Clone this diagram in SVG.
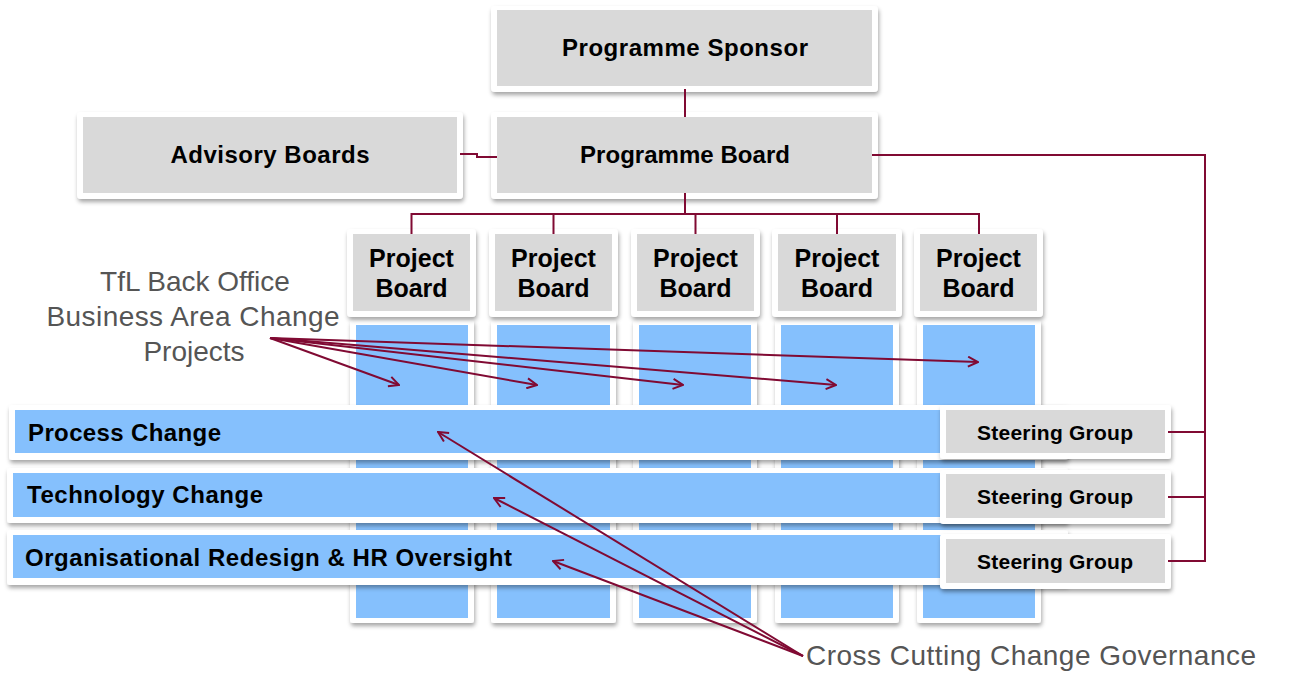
<svg xmlns="http://www.w3.org/2000/svg" width="1298" height="690" viewBox="0 0 1298 690">
<style>
.card{fill:#fff;filter:url(#sh)}
.gray{fill:#D9D9D9}
.blue{fill:#85C0FD}
.t{font-family:"Liberation Sans",Arial,sans-serif;font-weight:bold;fill:#000}
.lbl{font-family:"Liberation Sans",Arial,sans-serif;font-size:28px;fill:#555}
.c{fill:none;stroke:#800A33;stroke-width:2}
.a{fill:none;stroke:#800A33;stroke-width:2;marker-end:url(#ah)}
</style>
<defs>
<filter id="sh" x="-10%" y="-10%" width="120%" height="130%">
<feDropShadow dx="1" dy="3" stdDeviation="2" flood-color="#000" flood-opacity="0.35"/>
</filter>
<marker id="ah" viewBox="0 0 12 12" refX="11" refY="6" markerWidth="12" markerHeight="12" markerUnits="userSpaceOnUse" orient="auto">
<path d="M1,1 L11,6 L1,11" fill="none" stroke="#800A33" stroke-width="2"/>
</marker>
</defs>
<rect width="1298" height="690" fill="#fff"/>

<g id="columns">
<rect class="card" x="350" y="320" width="124" height="303" rx="3"/><rect class="blue" x="356" y="325" width="112" height="293"/>
<rect class="card" x="491" y="320" width="125" height="303" rx="3"/><rect class="blue" x="497" y="325" width="113" height="293"/>
<rect class="card" x="633" y="320" width="124" height="303" rx="3"/><rect class="blue" x="639" y="325" width="112" height="293"/>
<rect class="card" x="775" y="320" width="124" height="303" rx="3"/><rect class="blue" x="781" y="325" width="112" height="293"/>
<rect class="card" x="917" y="320" width="124" height="303" rx="3"/><rect class="blue" x="923" y="325" width="112" height="293"/>
</g>

<g id="sponsor">
<rect class="card" x="491" y="6" width="387" height="86" rx="4"/><rect class="gray" x="497" y="10" width="375" height="76"/>
<text class="t" x="685" y="56" font-size="24" text-anchor="middle" textLength="246">Programme Sponsor</text>
</g>
<g id="board">
<rect class="card" x="491" y="112" width="387" height="87" rx="4"/><rect class="gray" x="497" y="117" width="375" height="76"/>
<text class="t" x="685" y="163" font-size="24" text-anchor="middle" textLength="210">Programme Board</text>
</g>
<g id="advisory">
<rect class="card" x="77" y="112" width="386" height="87" rx="4"/><rect class="gray" x="83" y="117" width="374" height="76"/>
<text class="t" x="270" y="163" font-size="24" text-anchor="middle" textLength="199">Advisory Boards</text>
</g>

<g id="pb1"><rect class="card" x="347" y="229" width="129" height="88" rx="4"/><rect class="gray" x="353" y="234" width="117" height="77"/>
<text class="t" x="411.5" y="267" font-size="25" text-anchor="middle">Project</text><text class="t" x="411.5" y="297" font-size="25" text-anchor="middle">Board</text></g>
<g id="pb2"><rect class="card" x="489" y="229" width="129" height="88" rx="4"/><rect class="gray" x="495" y="234" width="117" height="77"/>
<text class="t" x="553.5" y="267" font-size="25" text-anchor="middle">Project</text><text class="t" x="553.5" y="297" font-size="25" text-anchor="middle">Board</text></g>
<g id="pb3"><rect class="card" x="631" y="229" width="129" height="88" rx="4"/><rect class="gray" x="637" y="234" width="117" height="77"/>
<text class="t" x="695.5" y="267" font-size="25" text-anchor="middle">Project</text><text class="t" x="695.5" y="297" font-size="25" text-anchor="middle">Board</text></g>
<g id="pb4"><rect class="card" x="772" y="229" width="130" height="88" rx="4"/><rect class="gray" x="778" y="234" width="118" height="77"/>
<text class="t" x="837" y="267" font-size="25" text-anchor="middle">Project</text><text class="t" x="837" y="297" font-size="25" text-anchor="middle">Board</text></g>
<g id="pb5"><rect class="card" x="914" y="229" width="129" height="88" rx="4"/><rect class="gray" x="920" y="234" width="117" height="77"/>
<text class="t" x="978.5" y="267" font-size="25" text-anchor="middle">Project</text><text class="t" x="978.5" y="297" font-size="25" text-anchor="middle">Board</text></g>

<g id="process">
<rect class="card" x="9" y="405" width="1059" height="55" rx="3"/><rect class="blue" x="15" y="410" width="1047" height="43"/>
<text class="t" x="28" y="441" font-size="24" textLength="193">Process Change</text>
</g>
<g id="technology">
<rect class="card" x="7" y="468" width="1061" height="55" rx="3"/><rect class="blue" x="13" y="473" width="1049" height="44"/>
<text class="t" x="27" y="503" font-size="24" textLength="236">Technology  Change</text>
</g>
<g id="org">
<rect class="card" x="7" y="530" width="1061" height="55" rx="3"/><rect class="blue" x="13" y="535" width="1049" height="43"/>
<text class="t" x="25" y="566" font-size="24" textLength="487">Organisational Redesign &amp; HR Oversight</text>
</g>

<g id="sg1"><rect class="card" x="940" y="405" width="231" height="54" rx="3"/><rect class="gray" x="946" y="410" width="219" height="43"/>
<text class="t" x="1055" y="440" font-size="21" text-anchor="middle" textLength="156">Steering Group</text></g>
<g id="sg2"><rect class="card" x="940" y="470" width="231" height="54" rx="3"/><rect class="gray" x="946" y="474" width="219" height="44"/>
<text class="t" x="1055" y="504" font-size="21" text-anchor="middle" textLength="156">Steering Group</text></g>
<g id="sg3"><rect class="card" x="940" y="534" width="231" height="55" rx="3"/><rect class="gray" x="946" y="539" width="219" height="44"/>
<text class="t" x="1055" y="569" font-size="21" text-anchor="middle" textLength="156">Steering Group</text></g>

<g id="labels">
<text class="lbl" x="195" y="291" text-anchor="middle">TfL Back Office</text>
<text class="lbl" x="193" y="326" text-anchor="middle" textLength="293">Business Area Change</text>
<text class="lbl" x="194" y="361" text-anchor="middle">Projects</text>
<text class="lbl" x="806" y="665" textLength="450">Cross Cutting Change Governance</text>
</g>

<g id="connectors">
<path class="c" d="M685,89 V117"/>
<path class="c" d="M685,193 V214 M411.5,234 V214 H979 V234 M553.5,214 V234 M695.5,214 V234 M837,214 V234"/>
<path class="c" d="M460,154 H477 V157 H497"/>
<path class="c" d="M872,155 H1205 V561 H1168 M1205,432 H1168 M1205,497 H1168"/>
<path class="a" d="M270,338 L399,385"/>
<path class="a" d="M270,338 L537,385"/>
<path class="a" d="M270,338 L683,385"/>
<path class="a" d="M270,338 L836,385"/>
<path class="a" d="M270,338 L978,362"/>
<path class="a" d="M803,656 L438,432"/>
<path class="a" d="M803,656 L494,498"/>
<path class="a" d="M803,656 L553,561"/>
</g>
</svg>
